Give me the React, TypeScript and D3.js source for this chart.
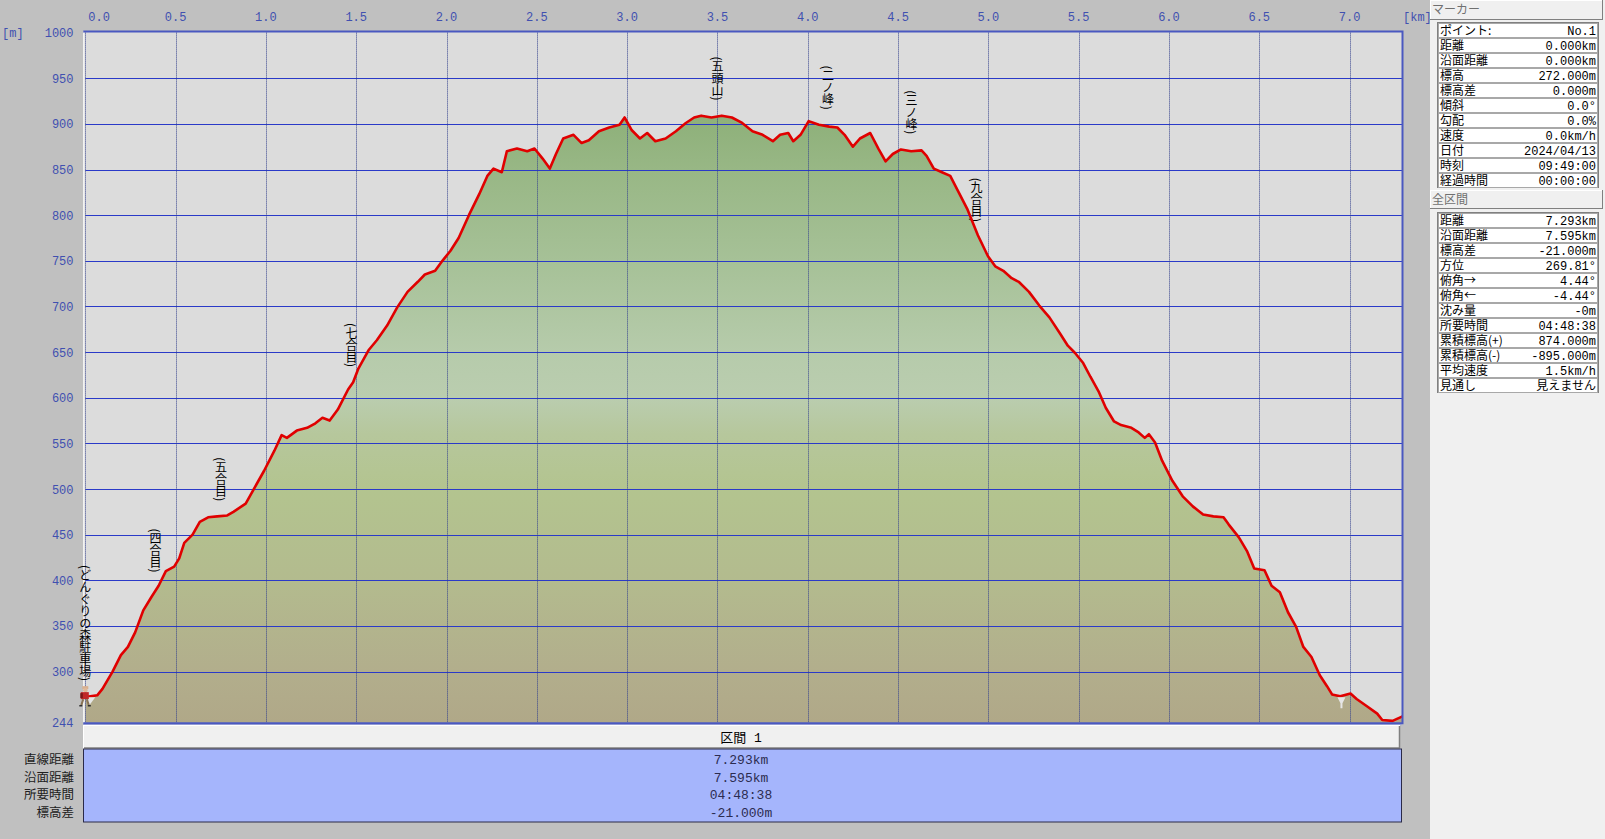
import * as d3 from 'd3'

const W = 1605, H = 839
const PL = 85.3, PR = 1402.5, PT = 32.6, PB = 722.7

// elevation profile
const distKm = [
  0.0, 0.066, 0.095, 0.151, 0.197, 0.236, 0.276, 0.321, 0.367, 0.406, 0.446, 0.492, 0.52, 0.548, 0.594, 0.634,
  0.68, 0.73, 0.786, 0.82, 0.888, 0.933, 0.99, 1.047, 1.087, 1.116, 1.171, 1.228, 1.274, 1.313, 1.353, 1.398,
  1.455, 1.483, 1.512, 1.568, 1.614, 1.671, 1.727, 1.784, 1.841, 1.88, 1.937, 1.977, 2.022, 2.067, 2.124, 2.181,
  2.226, 2.26, 2.306, 2.334, 2.39, 2.447, 2.487, 2.532, 2.572, 2.606, 2.646, 2.703, 2.748, 2.788, 2.844, 2.901,
  2.958, 2.986, 3.026, 3.071, 3.111, 3.156, 3.213, 3.27, 3.325, 3.371, 3.41, 3.467, 3.524, 3.58, 3.637, 3.694,
  3.75, 3.807, 3.847, 3.892, 3.92, 3.96, 4.005, 4.034, 4.062, 4.119, 4.164, 4.204, 4.25, 4.289, 4.346, 4.391,
  4.431, 4.471, 4.516, 4.573, 4.63, 4.658, 4.698, 4.743, 4.789, 4.828, 4.885, 4.942, 4.998, 5.038, 5.083, 5.129,
  5.168, 5.225, 5.282, 5.338, 5.395, 5.44, 5.48, 5.525, 5.565, 5.61, 5.65, 5.696, 5.735, 5.792, 5.832, 5.866,
  5.889, 5.923, 5.962, 6.019, 6.076, 6.132, 6.189, 6.246, 6.302, 6.331, 6.387, 6.432, 6.472, 6.529, 6.568, 6.614,
  6.659, 6.704, 6.744, 6.789, 6.835, 6.875, 6.903, 6.948, 7.005, 7.039, 7.096, 7.153, 7.181, 7.238, 7.293,
]
const elevM = [
  272, 274, 281, 300, 318, 327, 343, 367, 382, 394, 410, 415, 424, 441, 450, 464,
  469, 470, 471, 475, 484, 500, 520, 542, 559, 556, 564, 567, 572, 578, 575, 587,
  609, 617, 632, 652, 663, 679, 699, 716, 727, 735, 739, 750, 761, 775, 800, 823,
  843, 851, 847, 870, 873, 870, 873, 862, 851, 867, 884, 888, 879, 882, 892, 896,
  899, 907, 893, 884, 890, 881, 884, 892, 901, 907, 909, 907, 909, 907, 901, 892,
  888, 881, 888, 890, 881, 888, 903, 901, 899, 897, 896, 888, 875, 884, 890, 873,
  859, 867, 872, 870, 871, 865, 851, 847, 843, 828, 806, 778, 755, 744, 739, 731,
  727, 716, 701, 688, 671, 657, 649, 638, 623, 607, 589, 574, 570, 567, 562, 556,
  560, 551, 531, 509, 492, 481, 472, 470, 469, 461, 447, 432, 413, 411, 394, 387,
  365, 349, 327, 316, 296, 284, 275, 273, 276, 270, 262, 254, 247, 246, 251,
]

const xTicks = [0, 0.5, 1, 1.5, 2, 2.5, 3, 3.5, 4, 4.5, 5, 5.5, 6, 6.5, 7]
const xTickLabels = ['0.0', '0.5', '1.0', '1.5', '2.0', '2.5', '3.0', '3.5', '4.0', '4.5', '5.0', '5.5', '6.0', '6.5', '7.0']
const yGrid = [950, 900, 850, 800, 750, 700, 650, 600, 550, 500, 450, 400, 350, 300]
const yLabels = [1000, 950, 900, 850, 800, 750, 700, 650, 600, 550, 500, 450, 400, 350, 300, 244]

const wpNames = ['どんぐりの森駐車場', '四合目', '五合目', '七合目', '五頭山', '二ノ峰', '三ノ峰', '九合目']
const wpKm = [0.0, 0.389, 0.751, 1.474, 3.5, 4.112, 4.575, 4.935]
const wpElev = [272, 391, 469, 616, 908, 898, 871, 775]

const markerLabels = ['ポイント:', '距離', '沿面距離', '標高', '標高差', '傾斜', '勾配', '速度', '日付', '時刻', '経過時間']
const markerValues = ['No.1', '0.000km', '0.000km', '272.000m', '0.000m', '0.0°', '0.0%', '0.0km/h', '2024/04/13', '09:49:00', '00:00:00']
const totalLabels = ['距離', '沿面距離', '標高差', '方位', '俯角→', '俯角←', '沈み量', '所要時間', '累積標高(+)', '累積標高(-)', '平均速度', '見通し']
const totalValues = ['7.293km', '7.595km', '-21.000m', '269.81°', '4.44°', '-4.44°', '-0m', '04:48:38', '874.000m', '-895.000m', '1.5km/h', '見えません']
const sectionLabels = ['直線距離', '沿面距離', '所要時間', '標高差']
const sectionValues = ['7.293km', '7.595km', '04:48:38', '-21.000m']

const JP = "'Noto Sans CJK JP', sans-serif"
const MONO = "'Liberation Mono', 'Noto Sans CJK JP', monospace"

// colour of the fill by elevation
const gradStops: [number, string][] = [
  [1000, '#86a872'], [900, '#8fb17b'], [850, '#98b785'], [750, '#a6c197'], [650, '#b6cbab'],
  [600, '#bacdaf'], [560, '#b6c79c'], [500, '#b3c48f'], [400, '#b3bb8e'], [300, '#b2ae8c'], [244, '#b0a888'],
]

export default function App() {
  const x = d3.scaleLinear([0, 7.293], [PL, PR])
  const y = d3.scaleLinear([244, 1000], [PB, PT])
  const pts = distKm.map((d, i) => [d, elevM[i]] as [number, number])
  const area = d3.area<[number, number]>().x((d) => x(d[0])).y0(PB).y1((d) => y(d[1]))
  const line = d3.line<[number, number]>().x((d) => x(d[0])).y((d) => y(d[1]))

  const hx = x(distKm[0]), hy = y(elevM[0])
  const ex = x(6.955), ey = y(273)

  return (
    <div style={{ position: 'fixed', left: 0, top: 0 }}>
      <svg width={W} height={H} style={{ display: 'block' }}>
        <defs>
          <linearGradient id="elevGrad" gradientUnits="userSpaceOnUse" x1={0} x2={0} y1={y(1000)} y2={y(244)}>
            {gradStops.map(([e, c]) => (
              <stop key={e} offset={(1000 - e) / 756} stopColor={c} />
            ))}
          </linearGradient>
        </defs>
        <rect x={0} y={0} width={1430} height={H} fill="#c0c0c0" />
        <rect x={1430} y={0} width={W - 1430} height={H} fill="#f0f0f0" />

        {/* axis titles and labels */}
        <text x={2} y={37} fontFamily={MONO} fontSize={12} fill="#4050b0">[m]</text>
        <text x={1403} y={21} fontFamily={MONO} fontSize={12} fill="#4050b0">[km]</text>
        {xTicks.map((t, i) => (
          <text key={t} x={i === 0 ? x(t) + 3 : x(t)} y={21} textAnchor={i === 0 ? 'start' : 'middle'}
            fontFamily={MONO} fontSize={12} fill="#4050b0">{xTickLabels[i]}</text>
        ))}
        {yLabels.map((v) => (
          <text key={v} x={73.5} y={y(v) + 4.5} textAnchor="end" fontFamily={MONO} fontSize={12} fill="#4050b0">{v}</text>
        ))}

        {/* plot */}
        <rect x={PL - 2} y={PT - 1.5} width={PR - PL + 2} height={PB - PT + 1.5} fill="#dcdcdc" />
        <path d={area(pts) ?? ''} fill="url(#elevGrad)" />
        {yGrid.map((v) => (
          <line key={v} x1={PL} x2={PR} y1={Math.round(y(v)) + 0.5} y2={Math.round(y(v)) + 0.5} stroke="#2a3ac8" strokeWidth={1} />
        ))}
        {xTicks.map((t) => (
          <line key={t} x1={Math.round(x(t)) + 0.5} x2={Math.round(x(t)) + 0.5} y1={PT} y2={PB}
            stroke="#34408c" strokeWidth={1} strokeDasharray="1,1" />
        ))}
        <line x1={PL - 1.5} x2={PL - 1.5} y1={PT} y2={PB} stroke="#ffffff" strokeWidth={1} />

        {/* waypoint names */}
        {wpNames.map((n, i) => (
          <text key={n} x={x(wpKm[i])} y={y(wpElev[i]) - 16} textAnchor="end"
            style={{ writingMode: 'vertical-rl' }} fontFamily={JP} fontSize={12} fill="#000">
            ({n})
          </text>
        ))}

        <path d={line(pts) ?? ''} fill="none" stroke="#e00000" strokeWidth={2.6} strokeLinejoin="round" />

        {/* markers */}
        <path transform={`translate(${ex},${ey})`} d="M-4,1 L4,1 L1,7 L1,12 L-1,12 L-1,7 Z" fill="#e6e6e6" />
        <g transform={`translate(${hx},${hy})`}>
          <path d="M0,0 L10,0 L4,8 Z" fill="#e6e6e6" />
          <rect x={-3} y={-11} width={6} height={3} fill="#d8b090" />
          <circle cx={0} cy={-7} r={2.3} fill="#e0b898" />
          <rect x={-4.5} y={-5} width={8} height={7} fill="#c02828" />
          <rect x={-5} y={-4} width={2.5} height={5} fill="#7a1818" />
          <path d="M-2,2 L-4,8 M1.5,2 L3.5,8" stroke="#8a7456" strokeWidth={2} />
          <path d="M-6,8.5 L-3,8.5 M2.5,8.5 L5.5,8.5" stroke="#303030" strokeWidth={1.5} />
        </g>

        {/* plot frame */}
        <path d={`M${PL - 2},${PT - 1} L${PR},${PT - 1} L${PR},${PB + 0.5} L${PL - 2},${PB + 0.5}`}
          fill="none" stroke="#4a58c0" strokeWidth={2} />
        <line x1={PL - 2} x2={PR - 1} y1={PB + 2} y2={PB + 2} stroke="#8e98d8" strokeWidth={1} />

        {/* section table */}
        <rect x={83.5} y={725.5} width={1316} height={23} fill="#f0f0f0" stroke="#ffffff" />
        <line x1={84} x2={1400} y1={748} y2={748} stroke="#808080" strokeWidth={1.5} />
        <line x1={1399.5} x2={1399.5} y1={726} y2={748} stroke="#808080" strokeWidth={1.5} />
        <text x={741} y={742} textAnchor="middle" fontFamily={MONO} fontSize={13} fill="#000">区間 1</text>
        <rect x={83.5} y={749} width={1318} height={73} fill="#a5b5fc" stroke="#2a2a48" strokeWidth={1} />
        {sectionValues.map((v, i) => (
          <text key={i} x={741} y={764 + i * 17.6} textAnchor="middle" fontFamily={MONO} fontSize={13} fill="#2c2c50">{v}</text>
        ))}
        {sectionLabels.map((v, i) => (
          <text key={v} x={74} y={764 + i * 17.6} textAnchor="end" fontFamily={JP} fontSize={12.5} fill="#202020">{v}</text>
        ))}

        {/* right panel */}
        <rect x={1430.5} y={0.5} width={172} height={19} fill="#f0f0f0" stroke="#ffffff" />
        <path d="M1430,19.5 L1603,19.5 M1602.5,0 L1602.5,20" stroke="#808080" strokeWidth={1} />
        <text x={1432} y={14} fontFamily={JP} fontSize={12} fill="#707070">マーカー</text>
        <rect x={1437.5} y={22.5} width={161} height={markerLabels.length * 15} fill="#ffffff" stroke="#808080" />
        {markerLabels.map((l, i) => (
          <g key={l}>
            <rect x={1438.5} y={23.5 + i * 15} width={159} height={14} fill="#ffffff" stroke="#a8a8a8" />
            <text x={1440} y={35 + i * 15} fontFamily={JP} fontSize={12} fill="#000">{l}</text>
            <text x={1596} y={35 + i * 15} textAnchor="end" fontFamily={MONO} fontSize={12} fill="#000">{markerValues[i]}</text>
          </g>
        ))}

        <rect x={1430.5} y={190.5} width={172} height={18} fill="#f0f0f0" stroke="#ffffff" />
        <path d="M1430,208.5 L1603,208.5 M1602.5,190 L1602.5,209" stroke="#808080" strokeWidth={1} />
        <text x={1432} y={204} fontFamily={JP} fontSize={12} fill="#707070">全区間</text>
        <rect x={1437.5} y={212.5} width={161} height={totalLabels.length * 15} fill="#ffffff" stroke="#808080" />
        {totalLabels.map((l, i) => (
          <g key={l}>
            <rect x={1438.5} y={213.5 + i * 15} width={159} height={14} fill="#ffffff" stroke="#a8a8a8" />
            <text x={1440} y={225 + i * 15} fontFamily={JP} fontSize={12} fill="#000">{l}</text>
            <text x={1596} y={225 + i * 15} textAnchor="end" fontFamily={i === 11 ? JP : MONO} fontSize={12} fill="#000">{totalValues[i]}</text>
          </g>
        ))}
      </svg>
    </div>
  )
}
